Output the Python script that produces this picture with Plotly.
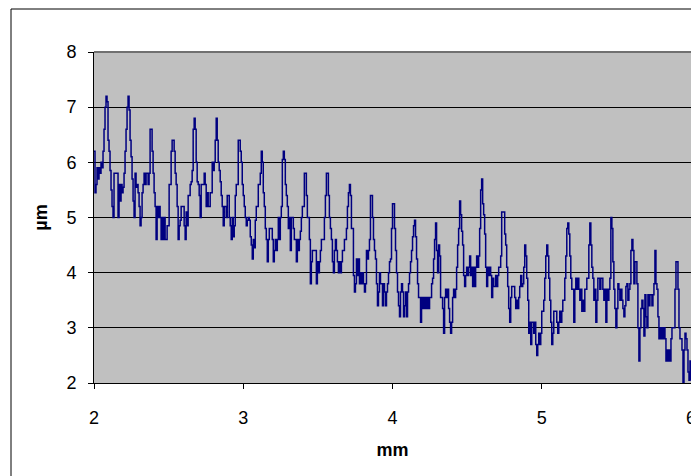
import numpy as np
import plotly.graph_objects as go

X_START_MM = 2.0
X_END_MM = 6.0

height_um_part1 = [
    6.2, 5.45, 5.6, 5.9, 5.7, 5.9, 5.8, 6.0, 5.9, 6.2,
    6.6, 7.0, 7.2, 7.1, 6.4, 6.2, 5.85, 5.5, 5.2, 5.0,
    5.8, 5.8, 5.8, 5.8, 5.0, 5.6, 5.3, 5.6, 5.45, 5.55,
    5.8, 6.2, 6.6, 7.0, 7.2, 6.95, 6.4, 6.1, 5.7, 5.3,
    5.0, 5.8, 5.55, 5.6, 5.45, 5.2, 4.85, 5.0, 5.45, 5.6,
    5.8, 5.6, 5.8, 5.8, 5.6, 5.8, 6.6, 6.6, 6.2, 5.8,
    5.45, 5.2, 4.6, 5.2, 5.0, 5.2, 5.0, 4.6, 5.0, 4.6,
    5.0, 4.6, 4.6, 4.85, 4.85, 5.6, 5.6, 6.2, 6.4, 6.4,
    6.2, 5.8, 5.6, 5.2, 4.6, 4.85,
]
height_um_part2 = [
    4.95, 5.2, 5.2, 5.2, 4.85, 4.6, 5.1, 4.85, 5.4, 5.4,
    5.6, 5.65, 5.85, 6.6, 6.8, 6.6, 6.0, 5.65, 5.6, 5.4,
    5.0, 5.6, 5.6, 5.6, 5.8, 5.6, 5.2, 5.45, 5.2, 5.2,
    5.45, 5.45, 6.0, 5.85, 6.0, 6.4, 6.8, 6.4, 6.0, 5.85,
    5.65, 5.4, 5.2, 4.85, 5.2, 5.2, 5.0, 5.4, 5.4, 5.0,
    4.85, 4.6, 5.0, 4.65, 4.85, 5.4, 5.6, 5.6, 6.4, 6.4,
    6.2, 6.0, 5.6, 5.4, 5.2, 5.0, 4.85, 4.95, 5.0, 4.95,
    4.65, 4.5, 4.25, 4.6, 4.45, 4.95, 5.2, 5.2, 5.6, 5.6,
    5.8, 6.2, 6.0, 5.45, 5.2, 4.8,
]
height_um_part3 = [
    4.6, 4.2, 4.6, 4.8, 4.8, 4.8, 4.6, 4.2, 4.4, 4.6,
    4.4, 4.6, 5.0, 4.6, 5.0, 5.2, 6.05, 6.2, 6.05, 5.6,
    5.4, 5.2, 4.8, 5.0, 4.4, 5.0, 5.0, 4.8, 4.6, 4.6,
    4.2, 4.6, 4.4, 4.6, 4.75, 5.0, 5.2, 5.2, 5.8, 5.8,
    5.4, 5.0, 5.0, 4.6, 3.8, 4.2, 4.4, 4.4, 4.4, 4.4,
    3.8, 4.2, 4.0, 4.2, 4.4, 4.6, 4.6, 4.6, 5.0, 5.4,
    5.8, 5.8, 5.4, 5.0, 4.8, 4.6, 4.2, 4.0, 4.4, 4.6,
    4.4, 4.2, 4.0, 4.2, 4.0, 4.2, 4.4, 4.4, 4.6, 4.6,
    4.8, 5.2, 5.45, 5.6, 5.4, 4.8,
]
height_um_part4 = [
    4.8, 3.95, 3.65, 3.8, 4.25, 3.95, 4.25, 3.8, 4.0, 3.8,
    4.0, 3.8, 3.65, 3.8, 4.4, 4.25, 4.4, 4.6, 5.4, 5.4,
    5.0, 4.6, 4.4, 4.25, 3.8, 3.4, 3.65, 4.0, 3.8, 3.8,
    3.4, 3.8, 3.65, 3.4, 3.65, 3.8, 4.0, 4.2, 4.25, 4.8,
    5.25, 5.25, 4.8, 4.4, 4.0, 3.65, 3.4, 3.2, 3.65, 3.8,
    3.65, 3.2, 3.4, 3.65, 3.2, 3.65, 3.8, 4.0, 4.2, 4.4,
    4.65, 4.85, 4.95, 4.65, 4.25, 3.8, 3.55, 3.55, 3.1, 3.55,
    3.35, 3.55, 3.35, 3.55, 3.35, 3.55, 3.35, 3.55, 3.55, 3.8,
    3.9, 4.25, 4.6, 4.9, 4.4, 4.0,
]
height_um_part5 = [
    4.5, 4.3, 3.55, 3.55, 3.35, 2.9, 3.55, 3.7, 3.55, 3.7,
    3.35, 3.1, 2.9, 3.1, 3.55, 3.7, 3.55, 3.7, 4.1, 4.5,
    4.8, 5.3, 5.05, 4.75, 4.5, 3.95, 3.75, 3.95, 4.1, 3.95,
    4.1, 4.3, 3.95, 4.1, 3.75, 4.1, 3.75, 4.1, 4.3, 4.1,
    4.3, 4.8, 5.5, 5.7, 5.25, 5.05, 4.7, 4.1, 3.75, 4.1,
    3.95, 4.1, 3.95, 3.55, 3.9, 3.75, 3.75, 3.95, 3.75, 3.95,
    4.1, 4.1, 4.3, 5.1, 5.1, 5.1, 4.7, 4.5, 4.1, 3.75,
    3.35, 3.1, 3.55, 3.75, 3.75, 3.75, 3.55, 3.35, 3.5, 3.35,
    3.55, 3.75, 3.95, 3.75, 3.8, 4.1,
]
height_um_part6 = [
    4.5, 4.3, 3.9, 3.5, 2.9, 3.1, 2.7, 3.1, 3.1, 2.9,
    3.1, 2.7, 2.5, 2.7, 2.9, 2.7, 2.9, 3.3, 3.3, 3.5,
    3.9, 4.3, 4.5, 4.3, 3.9, 3.5, 3.1, 2.7, 2.9, 3.3,
    3.3, 3.3, 3.1, 2.9, 3.1, 3.3, 3.1, 3.3, 3.5, 3.5,
    3.9, 4.3, 4.8, 4.9, 4.7, 4.3, 3.9, 3.7, 3.7, 3.1,
    3.7, 3.9, 3.7, 3.9, 3.7, 3.5, 3.7, 3.3, 3.5, 3.3,
    3.7, 3.7, 3.9, 3.9, 4.5, 4.9, 4.5, 4.1, 3.9, 3.5,
    3.7, 3.1, 3.5, 3.9, 3.9, 3.7, 3.9, 3.9, 3.7, 3.5,
    3.7, 3.1, 3.7, 3.5, 3.7, 3.9,
]
height_um_part7 = [
    5.0, 4.8, 4.2, 3.7, 3.35, 3.0, 3.35, 3.8, 3.7, 3.5,
    3.7, 3.5, 3.35, 3.2, 3.4, 3.75, 3.8, 3.5, 3.7, 3.8,
    4.4, 4.6, 4.4, 3.8, 4.2, 4.2, 3.8, 3.0, 2.4, 3.0,
    3.35, 3.5, 3.35, 2.85, 3.6, 3.2, 3.0, 3.6, 3.4, 3.6,
    3.6, 3.4, 3.6, 3.8, 4.4, 3.8, 3.7, 3.2, 2.8, 3.0,
    2.8, 3.0, 2.8, 3.0, 2.8, 2.4, 2.6, 2.4, 2.6, 2.4,
    2.8, 3.0, 3.0, 3.0, 3.7, 4.2, 4.2, 3.7, 3.0, 2.8,
    2.8, 2.6, 2.0, 2.6, 2.9, 2.8, 2.6, 2.2, 2.05, 2.4,
    2.05,
]

height_um = (height_um_part1 + height_um_part2 + height_um_part3 + height_um_part4
             + height_um_part5 + height_um_part6 + height_um_part7)
position_mm = np.linspace(X_START_MM, X_END_MM, len(height_um))

x_ticks = [2, 3, 4, 5, 6]
y_ticks = [2, 3, 4, 5, 6, 7, 8]
x_title = "mm"
y_title = "µm"

FONT = "Liberation Sans, Arial, sans-serif"

fig = go.Figure()
fig.add_trace(go.Scatter(
    x=position_mm, y=height_um, mode="lines",
    line=dict(color="#000080", width=1.5, shape="hv"),
    showlegend=False, hoverinfo="skip",
))

fig.update_layout(
    width=691, height=476,
    margin=dict(l=94, r=0, t=52, b=93, pad=0, autoexpand=False),
    paper_bgcolor="white", plot_bgcolor="#C0C0C0",
    font=dict(family=FONT, size=18, color="black"),
    showlegend=False,
    xaxis=dict(
        range=[2, 6], tickvals=x_ticks, ticktext=[str(v) for v in x_ticks],
        showgrid=False, zeroline=False, automargin=False,
        showline=True, linecolor="black", linewidth=1,
        ticks="outside", ticklen=5, tickcolor="black", tickwidth=1,
        ticklabelstandoff=13, ticklabeloverflow="allow",
        title=dict(text=f"<b>{x_title}</b>", font=dict(size=18, family=FONT), standoff=16),
    ),
    yaxis=dict(
        range=[2, 8], tickvals=y_ticks, ticktext=[str(v) for v in y_ticks],
        showgrid=True, gridcolor="black", gridwidth=1, zeroline=False, automargin=False,
        showline=True, linecolor="black", linewidth=1,
        ticks="outside", ticklen=5, tickcolor="black", tickwidth=1,
        ticklabelstandoff=8, ticklabeloverflow="allow",
        title=dict(text=f"<b>{y_title}</b>", font=dict(size=18, family=FONT), standoff=14),
    ),
    shapes=[
        # outer chart border
        dict(type="rect", xref="paper", yref="paper",
             x0=(11 - 94) / 597, x1=1.2, y0=-0.6, y1=(383 - 9) / 331,
             line=dict(color="black", width=1), fillcolor="rgba(0,0,0,0)", layer="above"),
        # plot area top border
        dict(type="line", xref="paper", yref="paper", x0=0, x1=1, y0=1, y1=1,
             line=dict(color="#707070", width=2), layer="above"),
    ],
)

fig.write_html("out.html")
